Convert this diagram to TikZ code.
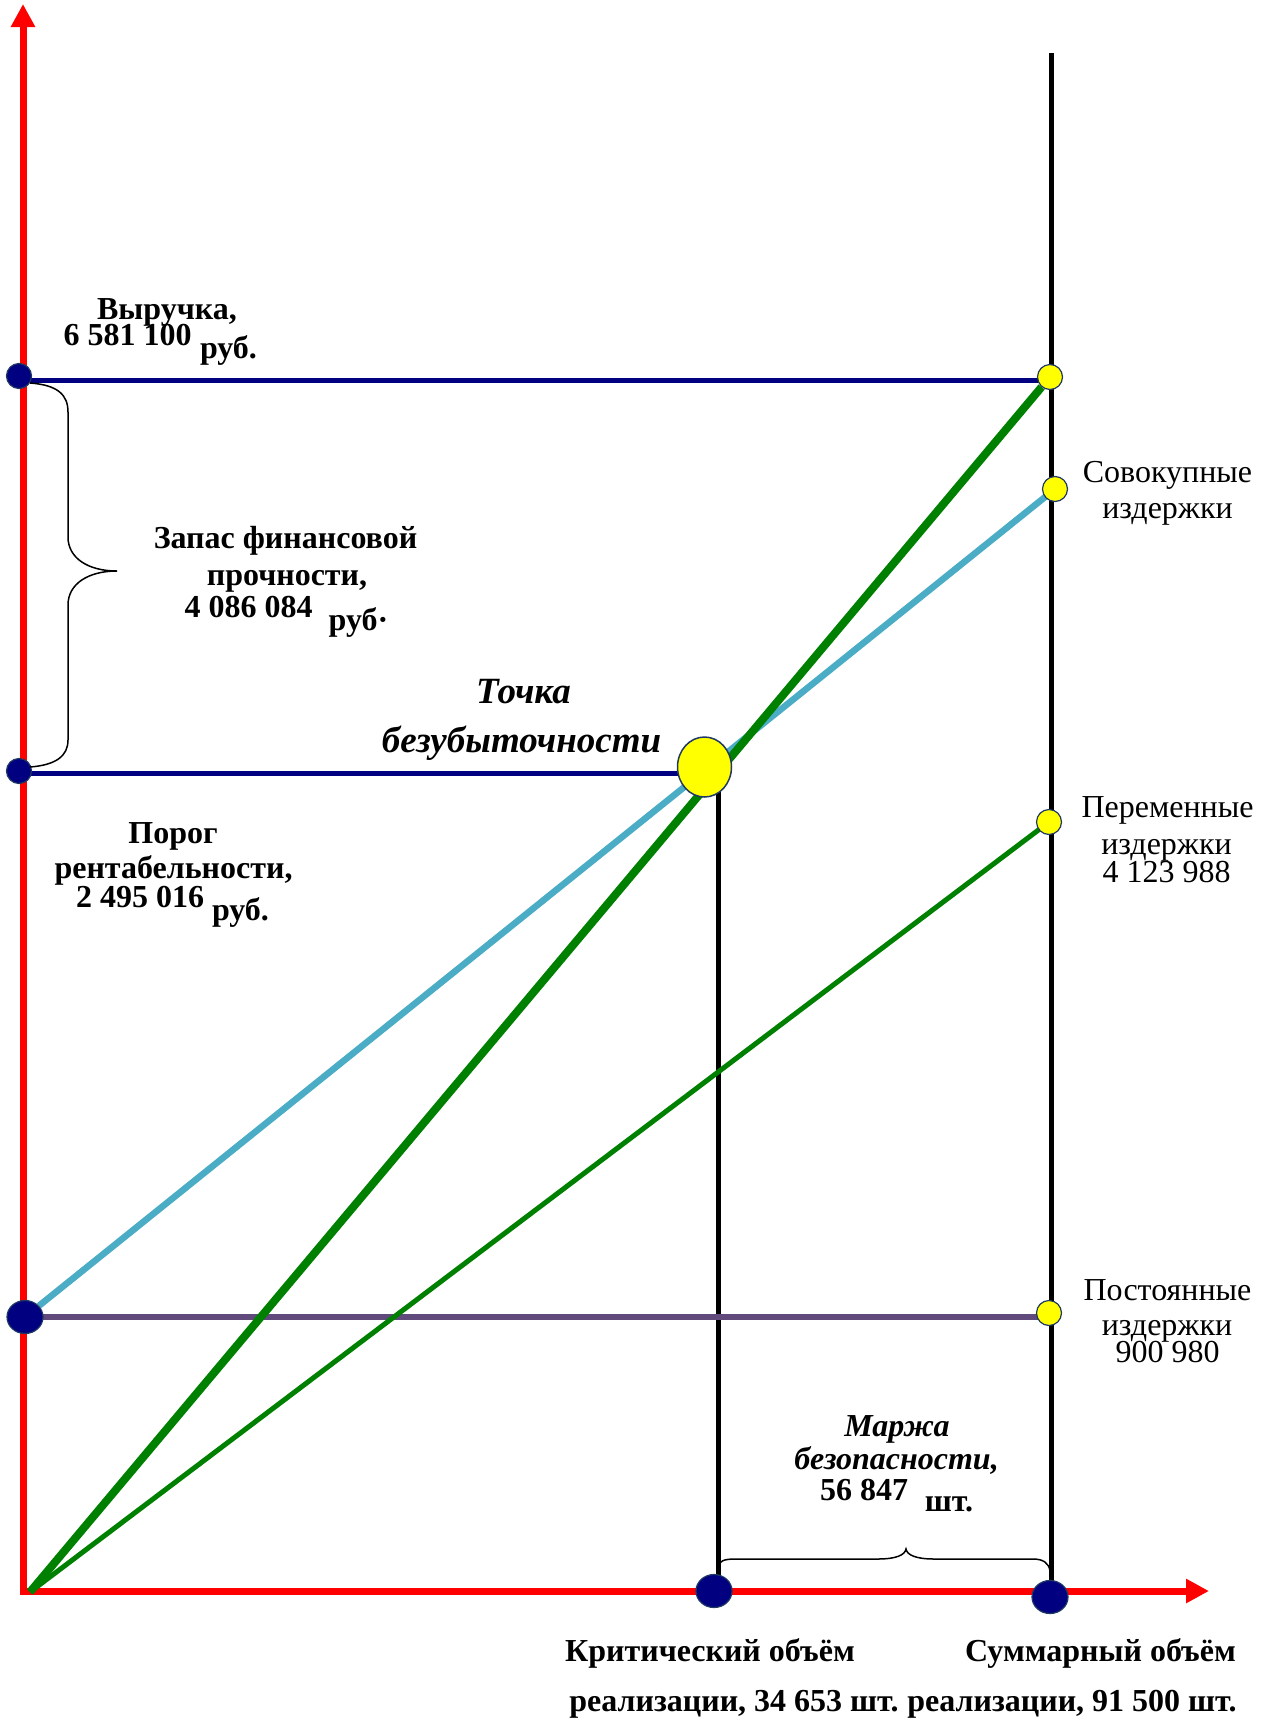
\documentclass[tikz,border=0pt]{standalone}
\usepackage{fontspec}
\setmainfont{Liberation Serif}
\usetikzlibrary{shapes.geometric,arrows.meta}
\definecolor{axisred}{RGB}{255,0,0}
\definecolor{navyc}{RGB}{0,0,128}
\definecolor{dgreen}{RGB}{0,128,0}
\definecolor{lblue}{RGB}{75,172,198}
\definecolor{cpurple}{RGB}{96,74,123}
\definecolor{dotrim}{RGB}{31,56,100}
\definecolor{yel}{RGB}{255,255,0}
\pgfdeclarelayer{bg}
\pgfsetlayers{bg,main}
\begin{document}
\begin{tikzpicture}[x=1pt,y=-1pt,
  ndot/.style={circle,fill=navyc,draw=dotrim,line width=1.2pt,inner sep=0pt,minimum size=25pt},
  ndotbig/.style={ellipse,fill=navyc,draw=dotrim,line width=1.2pt,inner sep=0pt,minimum width=36pt,minimum height=33pt},
  ydot/.style={circle,fill=yel,draw=dotrim,line width=1.2pt,inner sep=0pt,minimum size=25pt},
  txb/.style={anchor=base,inner sep=0pt,font=\fontsize{32}{34}\selectfont\bfseries},
  txr/.style={anchor=base,inner sep=0pt,font=\fontsize{32}{34}\selectfont},
  txi/.style={anchor=base,inner sep=0pt,font=\fontsize{32}{34}\selectfont\bfseries\itshape},
  txbig/.style={anchor=base,inner sep=0pt,font=\fontsize{37}{40}\selectfont\bfseries\itshape},
  axisline/.style={draw=axisred,line width=7pt,-{Triangle[length=23pt,width=23pt]}},
  brace/.style={draw=black,line width=1.5pt}
]
\useasboundingbox (0,0) rectangle (1273,1719);

% coordinates
\coordinate (O) at (23,1592);
\coordinate (G0) at (30,1592);
\coordinate (ytip) at (23,4);
\coordinate (xtip) at (1209,1591);
\coordinate (vtop) at (1051,53);
\coordinate (vbot) at (1051,1592);
\coordinate (cbot) at (718,1591);

% dots
\node[ndot] (Rl) at (19,376) {};
\node[ndot] (Bl) at (19,771) {};
\node[ndotbig] (Fl) at (25,1317) {};
\node[ydot] (Rr) at (1050,377) {};
\node[ydot] (Tr) at (1055,489) {};
\node[ydot] (Vr) at (1049,822) {};
\node[ydot] (Fr) at (1049,1313) {};
\node[ellipse,fill=yel,draw=dotrim,line width=1.5pt,inner sep=0pt,minimum width=54pt,minimum height=60pt] (BE) at (704.5,767) {};
\node[ndotbig] (Xc) at (714,1591) {};
\node[ndotbig] (Xs) at (1050,1597) {};

\begin{pgfonlayer}{bg}
  % axes
  \draw[axisline] (O) -- (ytip);
  \draw[axisline] (20,1591) -- (xtip);
  % verticals
  \draw[line width=5pt] (vtop) -- (vbot);
  \draw[line width=5pt] (cbot |- BE.center) -- (cbot);
  % cost lines
  \draw[cpurple,line width=6pt] (Fl.center) -- (Fr.center |- Fl.center);
  \draw[lblue,line width=6.5pt] (Fl) -- (Tr.center);
  \draw[dgreen,line width=5pt] (G0) -- (Vr.center);
  \draw[dgreen,line width=8pt] (G0) -- (Rr);
  % level lines
  \draw[navyc,line width=5pt] (Rl.center) ++(0,4) -- (1050,380);
  \draw[navyc,line width=5pt] (Bl.center) ++(0,2) -- (690,773);
\end{pgfonlayer}

% braces
\draw[brace] (30,383) .. controls (58,385) and (68,395) .. (68,412) -- (68,537)
  .. controls (68,558) and (88,571) .. (117,571)
  .. controls (88,571) and (68,584) .. (68,605) -- (68,740)
  .. controls (68,756) and (56,765) .. (30,767);
\draw[brace] (718,1567) .. controls (719,1561) and (724,1559) .. (735,1559) -- (878,1559)
  .. controls (896,1559) and (905,1555) .. (906,1549)
  .. controls (907,1555) and (916,1559) .. (934,1559) -- (1033,1559)
  .. controls (1043,1559) and (1049,1563) .. (1050,1571);

% labels
\node[txb] (t1) at (167,319) {Выручка,};
\node[txb] (t2) at (127.5,345) {6 581 100};
\node[txb] (t3) at (228.5,358) {руб.};

\node[txb] (z1) at (285.5,548) {Запас финансовой};
\node[txb] (z2) at (287,585) {прочности,};
\node[txb] (z3) at (248.5,617) {4 086 084};
\node[txb] (z4) at (358.5,630) {руб·};

\node[txbig] (b1) at (523.5,703) {Точка};
\node[txbig] (b2) at (521.5,752) {безубыточности};

\node[txr] (s1) at (1167.5,482) {Совокупные};
\node[txr] (s2) at (1167.5,518) {издержки};

\node[txr] (p1) at (1167.5,817) {Переменные};
\node[txr] (p2) at (1166.5,854) {издержки};
\node[txr] (p3) at (1166.5,882) {4 123 988};

\node[txr] (c1) at (1167.5,1300) {Постоянные};
\node[txr] (c2) at (1167,1335) {издержки};
\node[txr] (c3) at (1167.5,1362) {900 980};

\node[txb] (r1) at (173,843) {Порог};
\node[txb] (r2) at (173.5,878) {рентабельности,};
\node[txb] (r3) at (140,907) {2 495 016};
\node[txb] (r4) at (240.5,920) {руб.};

\node[txi] (m1) at (897,1436) {Маржа};
\node[txi] (m2) at (896.5,1469) {безопасности,};
\node[txb] (m3) at (864,1500) {56 847};
\node[txb] (m4) at (949,1511) {шт.};

\node[txb] (k1) at (710,1661) {Критический объём};
\node[txb] (k2) at (734,1711) {реализации, 34 653 шт.};
\node[txb] (u1) at (1100.5,1661) {Суммарный объём};
\node[txb] (u2) at (1072,1711) {реализации, 91 500 шт.};
\end{tikzpicture}
\end{document}
